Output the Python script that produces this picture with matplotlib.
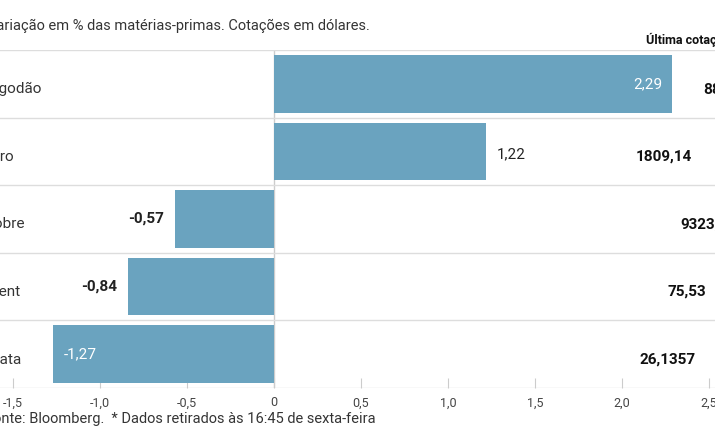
import matplotlib
matplotlib.use("Agg")
import matplotlib.pyplot as plt

categories = ["Algodão", "Ouro", "Cobre", "Brent", "Prata"]
changes = [2.29, 1.22, -0.57, -0.84, -1.27]
last_quotes = ["88,10", "1809,14", "9323,50", "75,53", "26,1357"]
xticks = [-1.5, -1.0, -0.5, 0, 0.5, 1.0, 1.5, 2.0, 2.5]
xtick_labels = ["-1,5", "-1,0", "-0,5", "0", "0,5", "1,0", "1,5", "2,0", "2,5"]

plt.rcParams["font.family"] = "Roboto"
W, H = 715, 445
fig = plt.figure(figsize=(W/100, H/100), dpi=100)
ax = fig.add_axes([0, 1-388/H, 1, 338/H])
x0, scale = 274, 174.0
ax.set_xlim(-x0/scale, (W-x0)/scale)
n = len(categories)
ax.set_ylim(n-0.5, -0.5)
color = "#6aa3bf"
ax.barh(range(n), changes, height=0.85, color=color, zorder=2)
ax.axvline(0, color="#cccccc", lw=1, zorder=1)
for b in [i+0.5 for i in range(-1, n)]:
    ax.axhline(b, color="#dddddd", lw=1, zorder=1)
for s in ax.spines.values():
    s.set_visible(False)
ax.set_xticks(xticks)
ax.set_xticklabels(xtick_labels, fontsize=9, color="#444444")
ax.tick_params(axis="x", direction="in", length=7, color="#cccccc", pad=6)
ax.set_yticks([])

inside = [True, False, False, False, True]
for i, (v, ins) in enumerate(zip(changes, inside)):
    lab = f"{v:.2f}".replace(".", ",")
    if ins:
        if v > 0:
            ax.text(v-0.06, i, lab, ha="right", va="center", color="white", fontsize=11)
        else:
            ax.text(v+0.06, i, lab, ha="left", va="center", color="white", fontsize=11)
    else:
        if v > 0:
            ax.text(v+0.06, i+0.05, lab, ha="left", va="center", color="#222222", fontsize=11)
        else:
            ax.text(v-0.06, i, lab, ha="right", va="center", color="#222222", fontsize=11, fontweight="bold")

tr = ax.get_yaxis_transform()
cat_px = [-14, -19, -16, -15, -14]
quote_px = [703, 636, 680, 668, 640]
for i, (c, q) in enumerate(zip(categories, last_quotes)):
    ax.text(cat_px[i]/W, i+0.08, c, transform=tr, ha="left", va="center", fontsize=11, color="#333333")
    ax.text(quote_px[i]/W, i+0.08, q, transform=tr, ha="left", va="center", fontsize=11, color="#111111", fontweight="bold")

fig.text(-13/W, 1-26/H, "Variação em % das matérias-primas. Cotações em dólares.", ha="left", va="center", fontsize=10.5, color="#333333")
fig.text(646/W, 1-40/H, "Última cotação*", ha="left", va="center", fontsize=9, color="#111111", fontweight="bold")
fig.text(-15/W, 1-419/H, "Fonte: Bloomberg.  * Dados retirados às 16:45 de sexta-feira", ha="left", va="center", fontsize=10.5, color="#333333")
fig.savefig("out.png", dpi=100)
